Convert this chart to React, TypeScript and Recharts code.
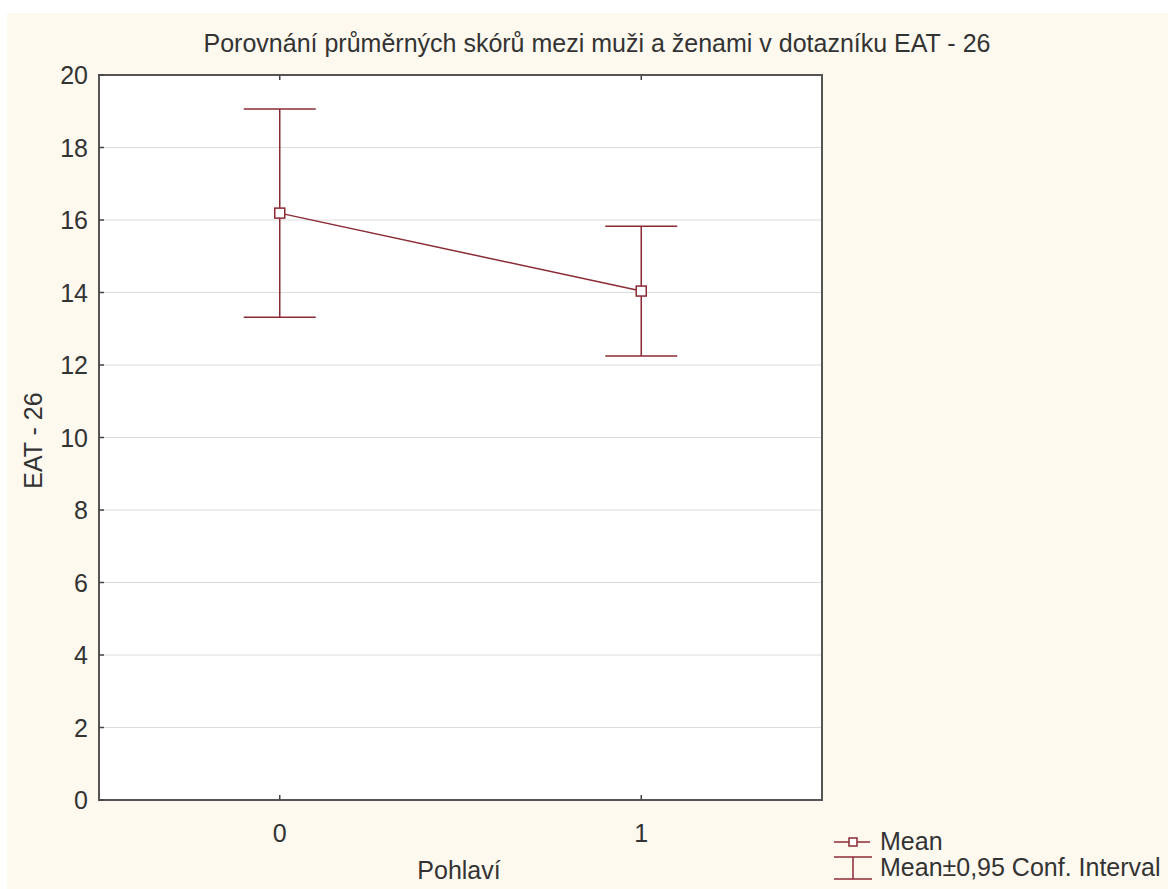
import {
  CartesianGrid,
  ComposedChart,
  ErrorBar,
  Line,
  ReferenceArea,
  XAxis,
  YAxis,
} from "recharts";

const groups = [0, 1];
const means = [16.19, 14.04];
const lowerCI = [13.32, 12.25];
const upperCI = [19.06, 15.83];
const yTicks = [0, 2, 4, 6, 8, 10, 12, 14, 16, 18, 20];

const RED = "#8b2a35";
const TEXT = "#333";
const FONT = "'Liberation Sans', Arial, sans-serif";
const FS = 25;

// plot frame inside the chart svg (margins + axis sizes below)
const W = 1161;
const H = 876;
const MARGIN = { top: 52, right: 346, bottom: 49, left: 32 };
const TOP_AXIS_H = 10;
const BOTTOM_AXIS_H = 40;
const Y_AXIS_W = 60;
const PLOT_TOP = MARGIN.top + TOP_AXIS_H;
const PLOT_BOTTOM = H - MARGIN.bottom - BOTTOM_AXIS_H;
const PLOT_LEFT = MARGIN.left + Y_AXIS_W;

const data = groups.map((g, i) => ({
  group: g,
  mean: means[i],
  ci: [means[i] - lowerCI[i], upperCI[i] - means[i]],
}));

// square marker like the Statistica output
const SquareDot = (props: any) => {
  const { cx, cy } = props;
  if (cx == null || cy == null) return null;
  return <rect x={cx - 5} y={cy - 5} width={10} height={10} fill="#fff" stroke={RED} strokeWidth={1.5} />;
};

// ticks point inwards, labels sit outside
const renderBottomTick = (props: any) => {
  const { x, payload } = props;
  return (
    <g>
      <line x1={x} y1={PLOT_BOTTOM} x2={x} y2={PLOT_BOTTOM - 5} stroke="#444" strokeWidth={1.5} />
      <text x={x} y={PLOT_BOTTOM + 42} textAnchor="middle" fontSize={FS} fill={TEXT} fontFamily={FONT}>
        {payload.value}
      </text>
    </g>
  );
};

const renderTopTick = (props: any) => {
  const { x } = props;
  return <line x1={x} y1={PLOT_TOP} x2={x} y2={PLOT_TOP + 5} stroke="#444" strokeWidth={1.5} />;
};

const renderLeftTick = (props: any) => {
  const { y, payload } = props;
  return (
    <g>
      <line x1={PLOT_LEFT} y1={y} x2={PLOT_LEFT + 5} y2={y} stroke="#444" strokeWidth={1.5} />
      <text x={PLOT_LEFT - 11} y={y + 9} textAnchor="end" fontSize={FS} fill={TEXT} fontFamily={FONT}>
        {payload.value}
      </text>
    </g>
  );
};

const textStyle = { position: "absolute" as const, fontSize: FS, lineHeight: `${FS}px`, color: TEXT, whiteSpace: "nowrap" as const };

export default function App() {
  return (
    <div style={{ position: "absolute", left: 0, top: 0, width: 1168, height: 889, background: "#fff", fontFamily: FONT }}>
      <div style={{ position: "absolute", left: 7, top: 13, width: W, height: H, background: "#fdf9ef" }}>
        <ComposedChart width={W} height={H} data={data} margin={MARGIN}>
          <CartesianGrid vertical={false} stroke="#dcdcdc" fill="#fff" />
          <XAxis
            dataKey="group"
            type="number"
            domain={[-0.5, 1.5]}
            ticks={groups}
            height={BOTTOM_AXIS_H}
            axisLine={false}
            tickLine={false}
            tick={renderBottomTick}
          />
          <XAxis
            xAxisId="top"
            orientation="top"
            dataKey="group"
            type="number"
            domain={[-0.5, 1.5]}
            ticks={groups}
            height={TOP_AXIS_H}
            axisLine={false}
            tickLine={false}
            tick={renderTopTick}
          />
          <YAxis
            type="number"
            domain={[0, 20]}
            ticks={yTicks}
            width={Y_AXIS_W}
            axisLine={false}
            tickLine={false}
            tick={renderLeftTick}
          />
          <ReferenceArea x1={-0.5} x2={1.5} y1={0} y2={20} fill="none" stroke="#555" strokeWidth={2} ifOverflow="visible" />
          <Line
            dataKey="mean"
            stroke={RED}
            strokeWidth={1.5}
            dot={<SquareDot />}
            activeDot={false}
            isAnimationActive={false}
          >
            <ErrorBar dataKey="ci" width={36} stroke={RED} strokeWidth={1.5} />
          </Line>
        </ComposedChart>
      </div>

      <div style={{ ...textStyle, left: 0, width: 1168, top: 31, textAlign: "center", paddingLeft: 26, boxSizing: "border-box" }}>
        Porovnání průměrných skórů mezi muži a ženami v dotazníku EAT - 26
      </div>
      <div style={{ ...textStyle, left: 359, width: 200, top: 858, textAlign: "center" }}>Pohlaví</div>
      <div style={{ ...textStyle, left: 33 - 100, top: 440 - 12, width: 200, textAlign: "center", transform: "rotate(-90deg)" }}>
        EAT - 26
      </div>

      <svg style={{ position: "absolute", left: 830, top: 828 }} width={46} height={56}>
        <line x1={4} y1={14} x2={40} y2={14} stroke={RED} strokeWidth={1.5} />
        <rect x={19} y={10} width={8} height={8} fill="#fff" stroke={RED} strokeWidth={1.5} />
        <line x1={4} y1={29} x2={42} y2={29} stroke={RED} strokeWidth={1.5} />
        <line x1={23} y1={29} x2={23} y2={51} stroke={RED} strokeWidth={1.5} />
        <line x1={4} y1={51} x2={42} y2={51} stroke={RED} strokeWidth={1.5} />
      </svg>
      <div style={{ ...textStyle, left: 880, top: 829, height: FS }}>Mean</div>
      <div style={{ ...textStyle, left: 880, top: 855, height: FS }}>Mean±0,95 Conf. Interval</div>
    </div>
  );
}
